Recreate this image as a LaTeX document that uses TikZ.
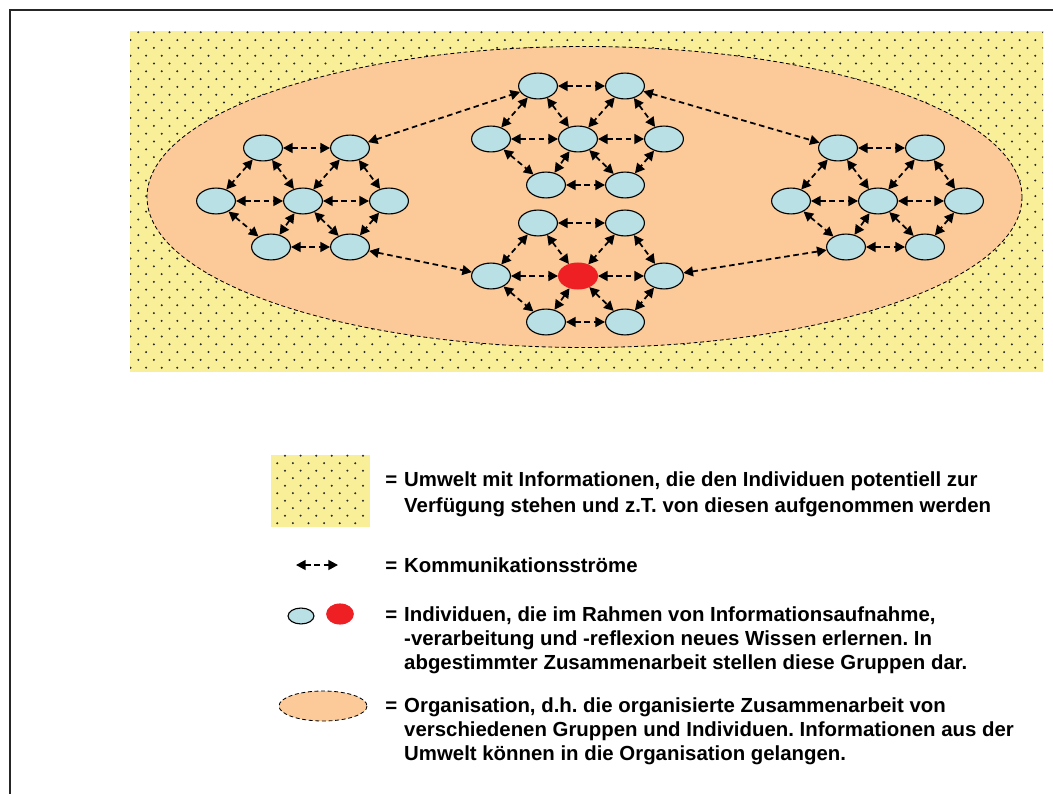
\documentclass[tikz,border=0pt]{standalone}
\usepackage{fontspec}
\setmainfont{Liberation Sans}
\usepackage{tikz}
\usetikzlibrary{arrows.meta,shapes.geometric}
\definecolor{envyellow}{HTML}{F9EF99}
\definecolor{orgpeach}{HTML}{FCCA98}
\definecolor{indblue}{HTML}{B9E0E4}
\definecolor{indred}{HTML}{EE2024}
\definecolor{dotgray}{HTML}{2A2A2A}
\tikzset{
  person/.style={ellipse,draw=black,fill=indblue,line width=0.8pt,inner sep=0pt,
    minimum width=27.6pt,minimum height=18.4pt},
  comm/.style={{Triangle[length=6.8pt,width=7pt]}-{Triangle[length=6.8pt,width=7pt]},
    dash pattern=on 4pt off 2.6pt,line width=1.25pt},
  orgline/.style={draw=black,fill=orgpeach,dash pattern=on 2.8pt off 1.9pt,line width=0.6pt},
  envdot/.style={fill=dotgray},
  legtext/.style={font=\bfseries\fontsize{14.5}{17}\selectfont,anchor=base west,inner sep=0pt}
}
\frenchspacing

\begin{document}
\begin{tikzpicture}[x=0.025cm,y=-0.025cm]
\useasboundingbox (0,0) rectangle (1053,794);
\draw[line width=0.9pt,draw=black!85] (10,794) -- (10,10) -- (1053,10);
\fill[envyellow] (130,31) rectangle (1043,372);
\begin{scope}
  \clip (130,31) rectangle (1043,372);
  \foreach \r in {0,...,43}{
    \pgfmathsetmacro\dy{32.3+7.8*\r}
    \pgfmathsetmacro\dx{mod(\r,2)==0 ? 138.3 : 130.5}
    \foreach \c in {0,...,58}
      \fill[envdot] (\dx+15.6*\c,\dy) circle (0.8pt);
  }
\end{scope}
\draw[orgline] (584.5,197) ellipse [x radius=437.5,y radius=150.5];

\foreach \g/\cx/\cy/\hf/\hd in {a/303/201/indblue/black,b/578/139/indblue/black,
    c/578/276/indred/indred,d/878/201/indblue/black}{
  \node[person] (\g1) at (\cx-40,\cy-53) {};
  \node[person] (\g2) at (\cx+47,\cy-53) {};
  \node[person] (\g3) at (\cx-87,\cy) {};
  \node[person,fill=\hf,draw=\hd] (\g4) at (\cx,\cy) {};
  \node[person] (\g5) at (\cx+86,\cy) {};
  \node[person] (\g6) at (\cx-32,\cy+46) {};
  \node[person] (\g7) at (\cx+47,\cy+46) {};
  \foreach \p/\q in {1/2,1/3,1/4,2/4,2/5,3/4,4/5,3/6,4/6,4/7,5/7,6/7}
    \draw[comm] (\g\p) -- (\g\q);
}
\draw[comm] (a2) -- (b1);
\draw[comm] (b2) -- (d1);
\draw[comm] (a7) -- (c3);
\draw[comm] (c5) -- (d6);

% legend
\fill[envyellow] (271,455) rectangle (370,527);
\foreach \r in {0,...,9}{
  \pgfmathsetmacro\dy{455.7+7.5*\r}
  \pgfmathsetmacro\dx{mod(\r,2)==0 ? 285 : 277.3}
  \foreach \c in {0,...,5}
    \fill[envdot] (\dx+15.6*\c,\dy) circle (0.8pt);
}
\node[legtext] (t1) at (385,486) {\begin{tabular}[t]{@{}l@{\hspace{5pt}}l@{}}
  =&Umwelt mit Informationen, die den Individuen potentiell zur\\[1.5pt]
  &Verfügung stehen und z.T. von diesen aufgenommen werden\end{tabular}};

\coordinate (k1) at (296,565);
\coordinate (k2) at (338,565);
\draw[comm] (k1) -- (k2);
\node[legtext] (t2) at (385,572) {\begin{tabular}[t]{@{}l@{\hspace{5pt}}l@{}}
  =&Kommunikationsströme\end{tabular}};

\node[person,minimum width=18.4pt,minimum height=11.3pt] (kb) at (301,616) {};
\node[person,fill=indred,draw=indred,minimum width=18.9pt,minimum height=14.2pt] (kr) at (340,614) {};
\node[legtext] (t3) at (385,621.5) {\begin{tabular}[t]{@{}l@{\hspace{5pt}}l@{}}
  =&Individuen, die im Rahmen von Informationsaufnahme,\\
  &-verarbeitung und -reflexion neues Wissen erlernen. In\\
  &abgestimmter Zusammenarbeit stellen diese Gruppen dar.\end{tabular}};

\draw[orgline] (323,706) ellipse [x radius=44,y radius=15];
\node[legtext] (t4) at (385,712.5) {\begin{tabular}[t]{@{}l@{\hspace{5pt}}l@{}}
  =&Organisation, d.h. die organisierte Zusammenarbeit von\\
  &verschiedenen Gruppen und Individuen. Informationen aus der\\
  &Umwelt können in die Organisation gelangen.\end{tabular}};
\end{tikzpicture}
\end{document}
